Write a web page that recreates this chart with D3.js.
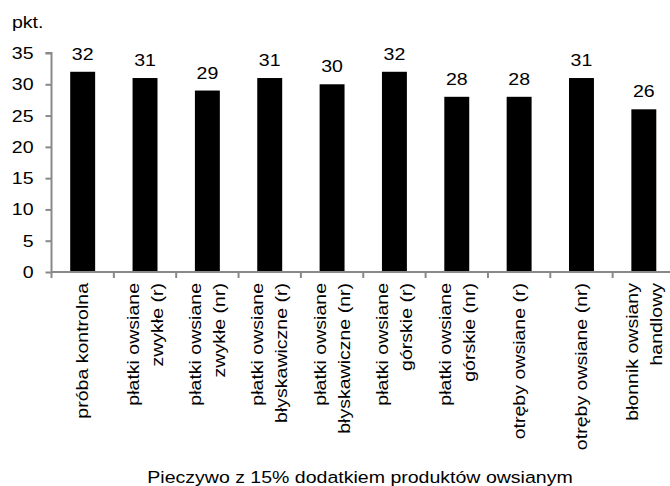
<!DOCTYPE html>
<html>
<head>
<meta charset="utf-8">
<script src="https://cdn.jsdelivr.net/npm/d3@7"></script>
<style>
    body { margin: 0; background: #fff; }
    svg { display: block; font-family: "Liberation Sans", Arial, sans-serif; }
</style>
</head>
<body>
<div id="chart"></div>
<script>
// Données du graphique
const categories = [
    ['próba kontrolna'],
    ['płatki owsiane', 'zwykłe (r)'],
    ['płatki owsiane', 'zwykłe (nr)'],
    ['płatki owsiane', 'błyskawiczne (r)'],
    ['płatki owsiane', 'błyskawiczne (nr)'],
    ['płatki owsiane', 'górskie (r)'],
    ['płatki owsiane', 'górskie (nr)'],
    ['otręby owsiane (r)'],
    ['otręby owsiane (nr)'],
    ['błonnik owsiany', 'handlowy']
];
const values = [32, 31, 29, 31, 30, 32, 28, 28, 31, 26];
const yTicks = [0, 5, 10, 15, 20, 25, 30, 35];
const yUnit = 'pkt.';
const xTitle = 'Pieczywo z 15% dodatkiem produktów owsianym';

const width = 670;
const height = 486;
const axisColor = '#898989';
const fontSize = 17;
const stretch = 1.15; // police un peu plus large que Arial

const svg = d3.select('#chart')
    .append('svg')
    .attr('width', width)
    .attr('height', height);

// Échelles
const x = d3.scaleBand()
    .domain(d3.range(categories.length))
    .range([51.5, 675])
    .paddingInner(0.6)
    .paddingOuter(0.3);

const y = d3.scaleLinear()
    .domain([0, 35])
    .range([272, 53]);

// Barres
svg.append('g')
    .selectAll('rect')
    .data(values)
    .enter().append('rect')
    .attr('x', (d, i) => x(i))
    .attr('y', d => y(d))
    .attr('width', x.bandwidth())
    .attr('height', d => y(0) - y(d))
    .attr('fill', '#000');

// Valeurs au-dessus des barres
svg.append('g')
    .selectAll('text')
    .data(values)
    .enter().append('text')
    .attr('transform', (d, i) => `translate(${x(i) + x.bandwidth() / 2},${y(d) - 12}) scale(${stretch},1)`)
    .attr('text-anchor', 'middle')
    .attr('font-size', fontSize)
    .text(d => d);

// Axe Y
const yAxis = svg.append('g')
    .attr('transform', `translate(${x.range()[0]},0)`)
    .call(d3.axisLeft(y).tickValues(yTicks).tickSize(6));
yAxis.selectAll('path, line').attr('stroke', axisColor).attr('stroke-width', 2);
yAxis.select('.domain').attr('d', `M-6,${y(35)}H0V${y(0)}`);
yAxis.selectAll('text')
    .attr('x', 0)
    .attr('transform', `translate(-18,0) scale(${stretch},1)`)
    .attr('font-size', fontSize)
    .attr('font-family', '"Liberation Sans", Arial, sans-serif')
    .attr('fill', '#000');

// Axe X (ligne et graduations entre catégories)
const step = x.step();
const xAxisG = svg.append('g');
xAxisG.append('line')
    .attr('x1', x.range()[0])
    .attr('x2', width)
    .attr('y1', y(0))
    .attr('y2', y(0))
    .attr('stroke', axisColor)
    .attr('stroke-width', 2);
xAxisG.selectAll('.xtick')
    .data(d3.range(categories.length + 1))
    .enter().append('line')
    .attr('x1', i => x.range()[0] + i * step)
    .attr('x2', i => x.range()[0] + i * step)
    .attr('y1', y(0))
    .attr('y2', y(0) + 6)
    .attr('stroke', axisColor)
    .attr('stroke-width', 2);

// Étiquettes des catégories (pivotées)
const lineGap = 24;
const labels = svg.append('g')
    .selectAll('text')
    .data(categories)
    .enter().append('text')
    .attr('transform', (d, i) => `translate(${x(i) + x.bandwidth() / 2 + 1},283) rotate(-90) scale(${stretch},1)`)
    .attr('text-anchor', 'end')
    .attr('font-size', fontSize);

labels.selectAll('tspan')
    .data(d => d.map((t, j) => ({ t, j, n: d.length })))
    .enter().append('tspan')
    .attr('x', 0)
    .attr('y', d => (d.j - (d.n - 1) / 2) * lineGap)
    .attr('dy', '0.28em')
    .text(d => d.t);

// Unité de l'axe Y
svg.append('text')
    .attr('transform', `translate(12,28) scale(${stretch},1)`)
    .attr('font-size', fontSize)
    .text(yUnit);

// Titre de l'axe X
svg.append('text')
    .attr('transform', `translate(360,483) scale(${stretch},1)`)
    .attr('text-anchor', 'middle')
    .attr('font-size', fontSize)
    .text(xTitle);
</script>
</body>
</html>
